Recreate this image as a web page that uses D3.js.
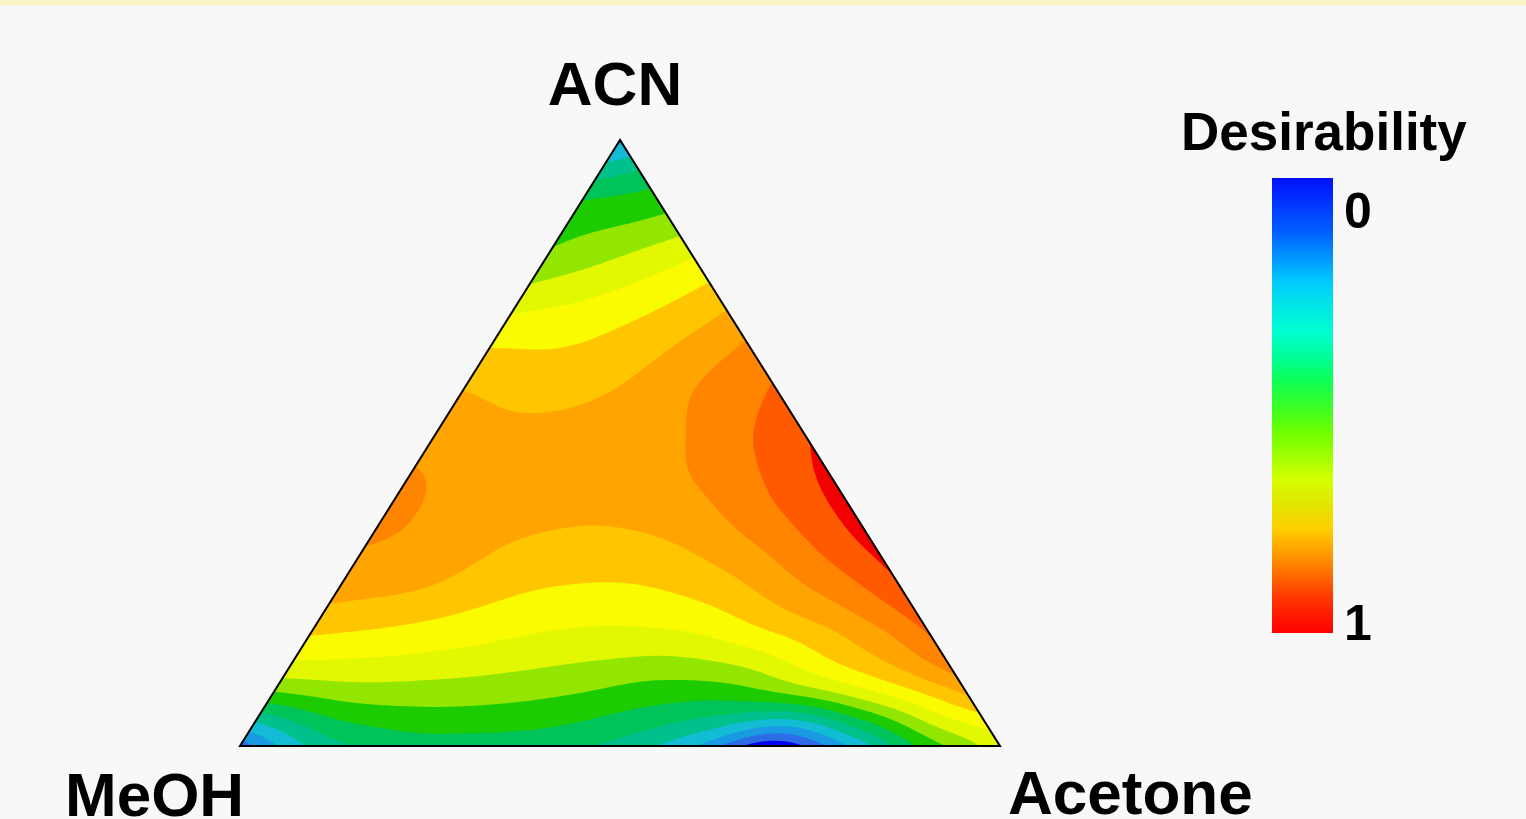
<!DOCTYPE html>
<html><head><meta charset="utf-8">
<script src="https://cdn.jsdelivr.net/npm/d3@7"></script>
<style>html,body{margin:0;padding:0;background:#f8f8f8;overflow:hidden}svg{display:block}</style>
</head><body>
<script>
// ---------- DATA ----------
const vertexLabels = ["ACN", "MeOH", "Acetone"];
// Desirability read on a 10% mixture lattice.
// Row r = ACN fraction r/10 ; entry k = Acetone fraction k/10 ; MeOH = rest.
const desirabilityRows = [
  [0.100, 0.287, 0.360, 0.370, 0.360, 0.310, 0.200, 0.020, 0.200, 0.420, 0.573],
  [0.500, 0.523, 0.520, 0.507, 0.483, 0.453, 0.463, 0.543, 0.647, 0.767],
  [0.693, 0.671, 0.643, 0.612, 0.602, 0.620, 0.685, 0.765, 0.880],
  [0.783, 0.767, 0.709, 0.691, 0.700, 0.751, 0.838, 0.940],
  [0.820, 0.773, 0.757, 0.753, 0.787, 0.863, 0.960],
  [0.780, 0.757, 0.760, 0.780, 0.847, 0.933],
  [0.723, 0.703, 0.730, 0.797, 0.867],
  [0.616, 0.637, 0.687, 0.760],
  [0.487, 0.543, 0.610],
  [0.400, 0.433],
  [0.180]
];
const contourLevels = [0.0667, 0.1333, 0.2, 0.2667, 0.3333, 0.4, 0.4667, 0.5333, 0.6, 0.6667, 0.7333, 0.8, 0.8667, 0.9333];
const bandColors = ["#0000f0", "#2e6be6", "#1a9ae2", "#12bcd4", "#00c08c", "#00c35a", "#1ccc00",
  "#92e600", "#e2f800", "#fbfb00", "#ffc600", "#ffa400", "#ff8500", "#ff5a00", "#f20000"];
const colorbarStops = [
  [0.00, "#0010ff"], [0.12, "#0060ff"], [0.185, "#00a0ff"], [0.23, "#00ccff"], [0.28, "#00e6e6"],
  [0.34, "#00ffd0"], [0.40, "#00ff90"], [0.45, "#10ff50"], [0.51, "#40ff20"], [0.56, "#70ff00"],
  [0.62, "#a8ff00"], [0.66, "#d4ff00"], [0.72, "#e4e400"], [0.77, "#ffd000"], [0.82, "#ffa000"],
  [0.88, "#ff6400"], [0.93, "#ff3000"], [1.00, "#ff0000"]
];
const colorbarTicks = ["0", "1"];
const colorbarTitle = "Desirability";

(function () {
// ---------- LAYOUT ----------
const W = 1526, H = 819;
const N = desirabilityRows.length - 1;
const tL = 240, tR = 1000, tB = 746, tT = 140;
const cScale = d3.scaleLinear().domain([0, 1]).range([tB, tT]);   // ACN fraction -> y
const aScale = d3.scaleLinear().domain([0, 1]).range([0, tR - tL]); // Acetone fraction -> dx
function toXY(a, c) { return [tL + aScale(a) + aScale(c) / 2, cScale(c)]; }
function toAC(x, y) { const c = cScale.invert(y); const a = aScale.invert(x - tL - aScale(c) / 2); return [a, c]; }

const svg = d3.select("body").append("svg").attr("width", W).attr("height", H);
svg.append("rect").attr("width", W).attr("height", H).attr("fill", "#f8f8f8");
svg.append("rect").attr("width", W).attr("height", 5.5).attr("fill", "#fcf3c6");

// ---------- FIELD (bicubic on lattice, ghost cells by linear extrapolation) ----------
const PAD = 3, M = N + 1 + 2 * PAD;
const G = Array.from({length: M}, () => new Array(M).fill(NaN));
desirabilityRows.forEach((row, j) => row.forEach((v, i) => { G[j + PAD][i + PAD] = v; }));
const dirs = [[1, 0], [-1, 0], [0, 1], [0, -1]];
for (let pass = 0; pass < 40; pass++) {
  const old = G.map(r => r.slice());
  let missing = 0;
  for (let j = 0; j < M; j++) for (let i = 0; i < M; i++) {
    if (!isNaN(old[j][i])) continue;
    missing++;
    let s = 0, n = 0;
    for (const [di, dj] of dirs) {
      const a = old[j + dj] ? old[j + dj][i + di] : undefined;
      const b = old[j + 2 * dj] ? old[j + 2 * dj][i + 2 * di] : undefined;
      if (a !== undefined && b !== undefined && !isNaN(a) && !isNaN(b)) { s += 2 * a - b; n++; }
    }
    if (!n) for (const [di, dj] of dirs) {
      const a = old[j + dj] ? old[j + dj][i + di] : undefined;
      if (a !== undefined && !isNaN(a)) { s += a; n++; }
    }
    if (n) G[j][i] = s / n;
  }
  if (!missing) break;
}
const clampI = k => Math.max(0, Math.min(M - 1, k));
function cr(p0, p1, p2, p3, t) {
  return p1 + 0.5 * t * (p2 - p0 + t * (2 * p0 - 5 * p1 + 4 * p2 - p3 + t * (3 * (p1 - p2) + p3 - p0)));
}
function field(p, q) {
  const i0 = Math.floor(p), j0 = Math.floor(q), tx = p - i0, ty = q - j0;
  const col = [];
  for (let dj = -1; dj <= 2; dj++) {
    const r = G[clampI(j0 + dj + PAD)];
    const g = k => r[clampI(i0 + k + PAD)];
    col.push(cr(g(-1), g(0), g(1), g(2), tx));
  }
  return cr(col[0], col[1], col[2], col[3], ty);
}

const step = 2, X0 = tL - 4, Y0 = tT - 4;
const nx = Math.ceil((tR + 4 - X0) / step) + 1, ny = Math.ceil((tB + 4 - Y0) / step) + 1;
const grid = new Float64Array(nx * ny);
for (let iy = 0; iy < ny; iy++) for (let ix = 0; ix < nx; ix++) {
  const [a, c] = toAC(X0 + ix * step, Y0 + iy * step);
  grid[iy * nx + ix] = field(Math.max(-2, Math.min(N + 2, a * N)), Math.max(-2, Math.min(N + 2, c * N)));
}
const contours = d3.contours().size([nx, ny]).thresholds(contourLevels)(grid);
const path = d3.geoPath(d3.geoTransform({
  point(x, y) { this.stream.point(X0 + (x - 0.5) * step, Y0 + (y - 0.5) * step); }
}));

const tri = [toXY(0, 1), toXY(0, 0), toXY(1, 0)];
const triPath = "M" + tri.map(p => p.join(",")).join("L") + "Z";
svg.append("clipPath").attr("id", "tri").append("path").attr("d", triPath);
const gg = svg.append("g").attr("clip-path", "url(#tri)");
gg.append("path").attr("d", triPath).attr("fill", bandColors[0]);
gg.selectAll("path.band").data(contours).join("path").attr("class", "band")
  .attr("d", path).attr("fill", (d, k) => bandColors[k + 1]);
svg.append("path").attr("d", triPath).attr("fill", "none").attr("stroke", "#000").attr("stroke-width", 2)
  .attr("stroke-linejoin", "miter");

// ---------- LABELS ----------
const font = "'Liberation Sans', Arial, sans-serif";
function label(t, x, y, size, anchor) {
  svg.append("text").attr("x", x).attr("y", y).attr("font-family", font).attr("font-weight", "bold")
    .attr("font-size", size).attr("text-anchor", anchor || "start").attr("fill", "#000").text(t);
}
label(vertexLabels[0], 615, 105, 62, "middle");
label(vertexLabels[1], 65, 816, 62);
label(vertexLabels[2], 1008, 814, 62);

// ---------- COLORBAR ----------
const defs = svg.append("defs");
const lg = defs.append("linearGradient").attr("id", "cb").attr("x1", 0).attr("y1", 0).attr("x2", 0).attr("y2", 1);
lg.selectAll("stop").data(colorbarStops).join("stop").attr("offset", d => d[0]).attr("stop-color", d => d[1]);
const cbY = d3.scaleLinear().domain([0, 1]).range([178, 633]);
svg.append("rect").attr("x", 1272).attr("y", cbY(0)).attr("width", 61).attr("height", cbY(1) - cbY(0)).attr("fill", "url(#cb)");
label(colorbarTitle, 1181, 150, 53);
label(colorbarTicks[0], 1344, cbY(0) + 50, 50);
label(colorbarTicks[1], 1344, cbY(1) + 7, 50);
})();
</script>
</body></html>
